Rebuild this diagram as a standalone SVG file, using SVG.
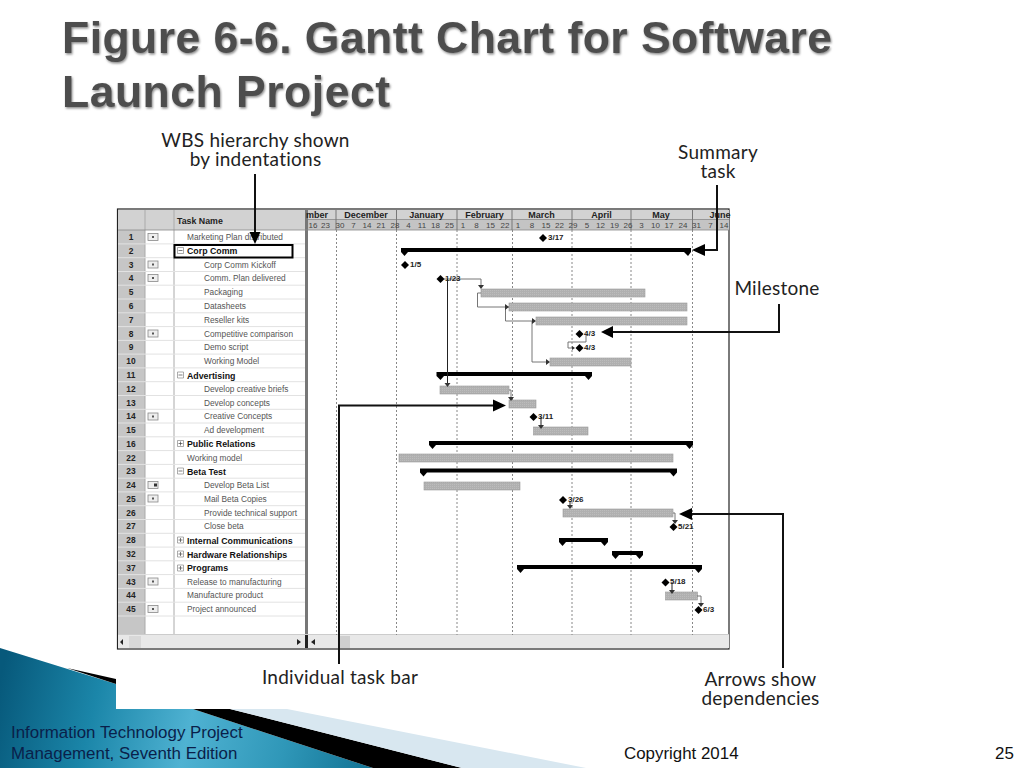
<svg xmlns="http://www.w3.org/2000/svg" width="1024" height="768" viewBox="0 0 1024 768">
<style>
.title{font:bold 44.500px "Liberation Sans",Arial,sans-serif;fill:#4e4e4e}
.call{font:19px "Lato","Open Sans",sans-serif;letter-spacing:.25px;fill:#222;text-anchor:middle}
.foot{font:16.900px "Liberation Sans",Arial,sans-serif;fill:#0a1f4a}
.t{font:8.300px "Liberation Sans",Arial,sans-serif;fill:#555}
.b{font:bold 8.800px "Liberation Sans",Arial,sans-serif;fill:#111}
.n{font:bold 8.400px "Liberation Sans",Arial,sans-serif;fill:#222;text-anchor:middle}
.h{font:bold 8.800px "Liberation Sans",Arial,sans-serif;fill:#222}
.m{font:bold 9px "Liberation Sans",Arial,sans-serif;fill:#222;text-anchor:middle}
.w{font:8px "Liberation Sans",Arial,sans-serif;fill:#444;text-anchor:middle}
.ml{font:bold 8px "Liberation Sans",Arial,sans-serif;fill:#222}
.grid{stroke:#e2e2e2;stroke-width:1}
.dash{stroke:#888;stroke-width:1;stroke-dasharray:2 2}
.bar{fill:url(#hatch);stroke:#9a9a9a;stroke-width:.6}
.sum{fill:#000}
.dep{fill:none;stroke:#666;stroke-width:.9}
.depk{fill:none;stroke:#222;stroke-width:1}
.call-line{fill:none;stroke:#111;stroke-width:2}
.ah{fill:#000}
.dh{fill:#333}
.ms{fill:#000}
.ico{fill:#eee;stroke:#888;stroke-width:.8}
</style>
<defs>
<linearGradient id="blue" gradientUnits="userSpaceOnUse" x1="0" y1="680" x2="380" y2="768">
<stop offset="0" stop-color="#07597b"/><stop offset=".25" stop-color="#1b86a9"/><stop offset=".5" stop-color="#4fb2d2"/><stop offset=".75" stop-color="#2f97b8"/><stop offset="1" stop-color="#0f6f90"/>
</linearGradient>
<pattern id="hatch" width="2" height="2" patternUnits="userSpaceOnUse"><rect width="2" height="2" fill="#b0b0b0"/><rect width="1" height="1" fill="#bcbcbc"/></pattern>
<filter id="bevel" x="-5%" y="-10%" width="110%" height="125%"><feDropShadow dx="1" dy="1.500" stdDeviation=".8" flood-color="#8a8a8a"/></filter>
<g id="msd"><path class="ms" d="M0-4 4 0 0 4-4 0Z"/></g>
<g id="icon"><rect class="ico" x="-5" y="-3.500" width="10" height="7"/><rect x="-1" y="-1" width="2" height="2" fill="#555"/></g>
<g id="icon2"><rect class="ico" x="-5" y="-3.500" width="10" height="7"/><rect x="1" y="-1.500" width="3" height="3" fill="#333"/></g>
</defs>
<rect width="1024" height="768" fill="#fff"/>
<g id="footer-art">
<path d="M0 648L116 684V709H193L373 768H0Z" fill="url(#blue)"/>
<path d="M67 668L116 679V684Z" fill="#000"/>
<path d="M193 709H230L462 768H373Z" fill="#000"/>
<path d="M230 709H287L586 768H462Z" fill="#d8e7f0"/>
</g>
<g id="title"><text class="title" filter="url(#bevel)" x="62" y="53" textLength="770" lengthAdjust="spacing">Figure 6-6. Gantt Chart for Software</text>
<text class="title" filter="url(#bevel)" x="62" y="107" textLength="328" lengthAdjust="spacing">Launch Project</text></g>
<rect x="116" y="208" width="614" height="501" fill="#fff"/>
<g id="gantt-frame">
<rect x="117.500" y="209" width="611.500" height="440" fill="#fff" stroke="#222" stroke-width="1.200"/>
<rect x="118" y="210" width="27" height="424" fill="#c6c6c6"/>
<rect x="118" y="210" width="187" height="20" fill="#d2d2d2"/>
<rect x="308" y="210" width="421" height="10" fill="#d2d2d2"/>
<rect x="308" y="220" width="421" height="10" fill="#c4c4c4"/>
<path d="M145 210V634M174 210V634" stroke="#aaa" fill="none"/>
<rect x="305" y="210" width="3" height="424" fill="#777"/>
<path class="grid" d="M118 243.900H305M118 257.700H305M118 271.500H305M118 285.200H305M118 299H305M118 312.800H305M118 326.600H305M118 340.400H305M118 354.100H305M118 367.900H305M118 381.700H305M118 395.500H305M118 409.300H305M118 423H305M118 436.800H305M118 450.600H305M118 464.400H305M118 478.200H305M118 491.900H305M118 505.700H305M118 519.500H305M118 533.300H305M118 547.100H305M118 560.800H305M118 574.600H305M118 588.400H305M118 602.200H305M118 616H305"/>
<path d="M118 230H729M308 219.500H729" stroke="#888" fill="none" stroke-width=".8"/>
<path d="M336 210V230M396.500 210V230M457 210V230M512 210V230M572 210V230M631 210V230M692.500 210V230" stroke="#777" fill="none"/>
<rect x="118" y="635" width="611" height="13" fill="#e8e8e8"/>
<path d="M118 634.500H729" stroke="#ccc"/>
<rect x="129" y="636" width="12" height="12" fill="#d8d8d8"/>
<rect x="305" y="635" width="3" height="13" fill="#222"/>
<rect x="339" y="636" width="11" height="12" fill="#cfcfcf"/>
<path d="M123 639V645L120 642ZM297 639V645L301 642ZM315 639V645L311 642Z" fill="#222"/>
</g>
<g id="gridlines">
<path class="dash" d="M336.500 230V635M396.500 230V635M457 230V635M512.500 230V635M572 230V635M631 230V635M692.500 230V635"/>
</g>
<g id="timescale">
<text class="m" x="317" y="217.500">mber</text><text class="m" x="366" y="217.500">December</text><text class="m" x="426.500" y="217.500">January</text><text class="m" x="484.500" y="217.500">February</text><text class="m" x="541.500" y="217.500">March</text><text class="m" x="601.500" y="217.500">April</text><text class="m" x="661" y="217.500">May</text><text class="m" x="720" y="217.500">June</text>
<g class="weeks">
<text class="w" x="313" y="228">16</text><text class="w" x="325.500" y="228">23</text><text class="w" x="340" y="228">30</text><text class="w" x="353.500" y="228">7</text><text class="w" x="367" y="228">14</text><text class="w" x="381" y="228">21</text><text class="w" x="395" y="228">28</text><text class="w" x="408.500" y="228">4</text><text class="w" x="422" y="228">11</text><text class="w" x="435.500" y="228">18</text><text class="w" x="449.500" y="228">25</text><text class="w" x="463" y="228">1</text><text class="w" x="476.500" y="228">8</text><text class="w" x="490.500" y="228">15</text><text class="w" x="505" y="228">22</text><text class="w" x="518" y="228">1</text><text class="w" x="532" y="228">8</text><text class="w" x="546" y="228">15</text><text class="w" x="559.500" y="228">22</text><text class="w" x="573" y="228">29</text><text class="w" x="587" y="228">5</text><text class="w" x="600.500" y="228">12</text><text class="w" x="614.500" y="228">19</text><text class="w" x="628" y="228">26</text><text class="w" x="641.500" y="228">3</text><text class="w" x="655.500" y="228">10</text><text class="w" x="669" y="228">17</text><text class="w" x="683" y="228">24</text><text class="w" x="696.500" y="228">31</text><text class="w" x="710.500" y="228">7</text><text class="w" x="724" y="228">14</text>
</g>
</g>
<g id="table-text">
<text class="h" x="177" y="223.500">Task Name</text>
<text class="n" x="131" y="240">1</text><text class="t" x="187" y="240">Marketing Plan distributed</text>
<text class="n" x="131" y="253.500">2</text><text class="b" x="187" y="254">Corp Comm</text>
<text class="n" x="131" y="267.500">3</text><text class="t" x="204" y="267.500">Corp Comm Kickoff</text>
<text class="n" x="131" y="281">4</text><text class="t" x="204" y="281">Comm. Plan delivered</text>
<text class="n" x="131" y="295">5</text><text class="t" x="204" y="295">Packaging</text>
<text class="n" x="131" y="309">6</text><text class="t" x="204" y="309">Datasheets</text>
<text class="n" x="131" y="322.500">7</text><text class="t" x="204" y="322.500">Reseller kits</text>
<text class="n" x="131" y="336.500">8</text><text class="t" x="204" y="336.500">Competitive comparison</text>
<text class="n" x="131" y="350">9</text><text class="t" x="204" y="350">Demo script</text>
<text class="n" x="131" y="364">10</text><text class="t" x="204" y="364">Working Model</text>
<text class="n" x="131" y="378">11</text><text class="b" x="187" y="378.500">Advertising</text>
<text class="n" x="131" y="391.500">12</text><text class="t" x="204" y="391.500">Develop creative briefs</text>
<text class="n" x="131" y="405.500">13</text><text class="t" x="204" y="405.500">Develop concepts</text>
<text class="n" x="131" y="419">14</text><text class="t" x="204" y="419">Creative Concepts</text>
<text class="n" x="131" y="433">15</text><text class="t" x="204" y="433">Ad development</text>
<text class="n" x="131" y="446.500">16</text><text class="b" x="187" y="447">Public Relations</text>
<text class="n" x="131" y="460.500">22</text><text class="t" x="187" y="460.500">Working model</text>
<text class="n" x="131" y="474">23</text><text class="b" x="187" y="474.500">Beta Test</text>
<text class="n" x="131" y="488">24</text><text class="t" x="204" y="488">Develop Beta List</text>
<text class="n" x="131" y="501.500">25</text><text class="t" x="204" y="501.500">Mail Beta Copies</text>
<text class="n" x="131" y="515.500">26</text><text class="t" x="204" y="515.500">Provide technical support</text>
<text class="n" x="131" y="529">27</text><text class="t" x="204" y="529">Close beta</text>
<text class="n" x="131" y="543">28</text><text class="b" x="187" y="543.500">Internal Communications</text>
<text class="n" x="131" y="557">32</text><text class="b" x="187" y="557.500">Hardware Relationships</text>
<text class="n" x="131" y="571">37</text><text class="b" x="187" y="571">Programs</text>
<text class="n" x="131" y="584.500">43</text><text class="t" x="187" y="584.500">Release to manufacturing</text>
<text class="n" x="131" y="598">44</text><text class="t" x="187" y="598">Manufacture product</text>
<text class="n" x="131" y="612">45</text><text class="t" x="187" y="612">Project announced</text>
</g>
<g id="indicators">
<use href="#icon" x="153" y="237"/><use href="#icon" x="153" y="264.500"/><use href="#icon" x="153" y="278"/><use href="#icon" x="153" y="333.500"/><use href="#icon" x="153" y="416.500"/><use href="#icon2" x="153" y="485"/><use href="#icon" x="153" y="498.500"/><use href="#icon" x="153" y="581.500"/><use href="#icon" x="153" y="609"/>
</g>
<g id="outline-boxes" fill="#fff" stroke="#888" stroke-width=".7">
<path d="M177.500 247.500h6v6h-6zM177.500 372h6v6h-6zM177.500 440.500h6v6h-6zM177.500 468h6v6h-6zM177.500 537h6v6h-6zM177.500 551h6v6h-6zM177.500 565h6v6h-6z"/>
<path d="M178.500 250.500h4M178.500 375h4M178.500 443.500h4M180.500 441.500v4M178.500 471h4M178.500 540h4M180.500 538v4M178.500 554h4M180.500 552v4M178.500 568h4M180.500 566v4" stroke="#444"/>
</g>
<g id="task-bars">
<rect class="bar" x="481" y="289" width="164" height="8"/>
<rect class="bar" x="509" y="303" width="178" height="8"/>
<rect class="bar" x="536" y="317" width="151" height="8"/>
<rect class="bar" x="550" y="358" width="81" height="8"/>
<rect class="bar" x="440" y="386" width="69" height="8"/>
<rect class="bar" x="509" y="400" width="27" height="8"/>
<rect class="bar" x="533.500" y="427" width="54.500" height="8"/>
<rect class="bar" x="399" y="454" width="274" height="8"/>
<rect class="bar" x="424" y="482" width="96" height="8"/>
<rect class="bar" x="563" y="509" width="110" height="8"/>
<rect class="bar" x="665.500" y="592" width="32" height="8"/>
</g>
<g id="summary-bars">
<path class="sum" d="M401 248H691V252L688 256 684 252H408L404.500 256 401 252Z"/>
<path class="sum" d="M436.500 372H592V376L588.500 380 585 376H444L440.500 380 436.500 376Z"/>
<path class="sum" d="M429 441H693V445L689.500 449 686 445H436L432.500 449 429 445Z"/>
<path class="sum" d="M420 468.500H677V472.500L673.500 476.500 670 472.500H427L423.500 476.500 420 472.500Z"/>
<path class="sum" d="M559 538H608V542L604.500 546 601 542H566L562.500 546 559 542Z"/>
<path class="sum" d="M612 551H643V555L639.500 559 636 555H619L615.500 559 612 555Z"/>
<path class="sum" d="M517 565H702V569L698.500 573 695 569H524L520.500 573 517 569Z"/>
</g>
<g id="connectors">
<path class="dep" d="M444 279H481V285"/>
<path class="depk" d="M447.500 279V383"/>
<path class="dep" d="M481 293H477.500V307H505"/>
<path class="dep" d="M509 307H505.500V321H532"/>
<path class="dep" d="M532 321V362H546"/>
<path class="dep" d="M586 334V342H568V348H572"/>
<path class="dep" d="M509 390H511V397"/>
<path class="depk" d="M541 417V425"/>
<path class="depk" d="M570 501V507"/>
<path class="dep" d="M673 513H675V521"/>
<path class="depk" d="M672 582V590"/>
<path class="dep" d="M697 596H701V604"/>
<path class="dh" d="M478 285H484L481 289ZM505 304V310L509 307ZM532 318V324L536 321ZM546 359V365L550 362ZM572 346V350L575 348ZM444.500 383H450.500L447.500 387ZM508 397H514L511 401ZM538 425H544L541 429ZM567 505H573L570 509ZM672 520H678L675 524ZM669 590H675L672 594ZM698 603H704L701 607Z"/>
</g>
<g id="milestones">
<use href="#msd" x="543" y="238"/><text class="ml" x="548" y="240">3/17</text>
<use href="#msd" x="405" y="265"/><text class="ml" x="410" y="267">1/5</text>
<use href="#msd" x="440.500" y="279"/><text class="ml" x="445" y="281">1/23</text>
<use href="#msd" x="579.500" y="334"/><text class="ml" x="584" y="336">4/3</text>
<use href="#msd" x="579.500" y="348"/><text class="ml" x="584" y="350">4/3</text>
<use href="#msd" x="533.500" y="417"/><text class="ml" x="538" y="419">3/11</text>
<use href="#msd" x="563" y="500"/><text class="ml" x="568" y="501.500">3/26</text>
<use href="#msd" x="673.500" y="527"/><text class="ml" x="678" y="528.500">5/21</text>
<use href="#msd" x="665.500" y="582.500"/><text class="ml" x="670" y="584">5/18</text>
<use href="#msd" x="698.500" y="610"/><text class="ml" x="703" y="611.500">6/3</text>
</g>
<g id="callouts">
<rect x="174.500" y="245" width="118" height="12.500" fill="none" stroke="#000" stroke-width="2"/>
<g id="callout-wbs"><text class="call" x="255.500" y="147">WBS hierarchy shown</text><text class="call" x="255.500" y="166">by indentations</text>
<path class="call-line" d="M255 174V234"/><path class="ah" d="M249.500 232H260.500L255 244Z"/></g>
<g id="callout-summary"><text class="call" x="718" y="159">Summary</text><text class="call" x="718" y="178">task</text>
<path class="call-line" d="M717 185V250H704"/><path class="ah" d="M705 244V256L692 250Z"/></g>
<g id="callout-milestone"><text class="call" x="777" y="295">Milestone</text>
<path class="call-line" d="M779 304V332H612"/><path class="ah" d="M613 326V338L601 332Z"/></g>
<g id="callout-taskbar"><text class="call" x="340" y="684">Individual task bar</text>
<path class="call-line" d="M339 664V405.500H494"/><path class="ah" d="M493 399.500V411.500L506 405.500Z"/></g>
<g id="callout-arrows"><text class="call" x="760.500" y="686">Arrows show</text><text class="call" x="760.500" y="705">dependencies</text>
<path class="call-line" d="M783 668V514H691"/><path class="ah" d="M692 508V520L679 514Z"/></g>
</g>
<g id="footer-text">
<text class="foot" x="11" y="738">Information Technology Project</text>
<text class="foot" x="11" y="759">Management, Seventh Edition</text>
<text class="foot" x="624" y="759" style="fill:#111">Copyright 2014</text>
<text class="foot" x="995" y="759" style="fill:#111">25</text>
</g>
</svg>
